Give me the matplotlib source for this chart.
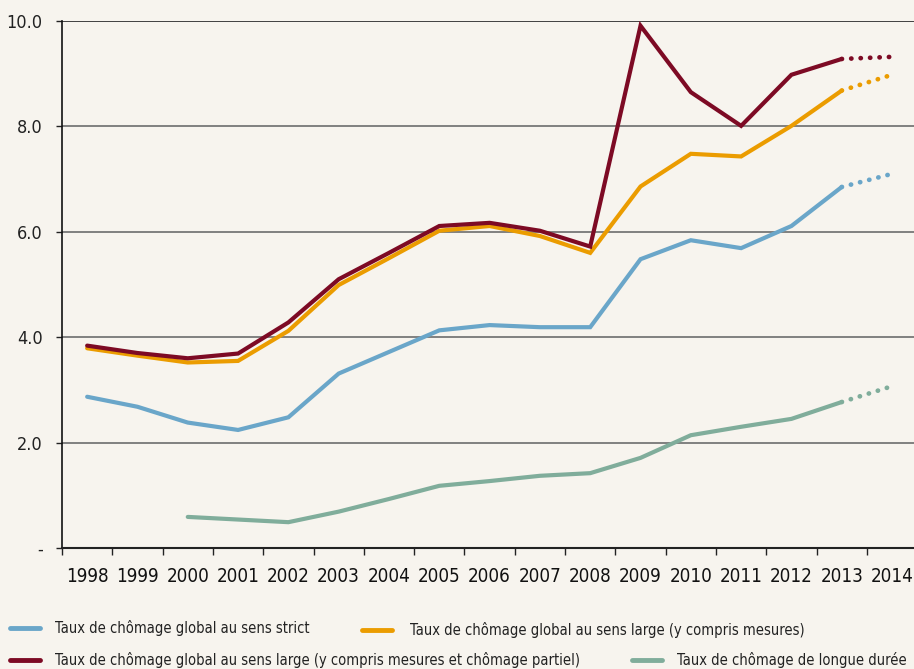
import matplotlib
matplotlib.use("Agg")
import matplotlib.pyplot as plt
from matplotlib.lines import Line2D

years = [str(y) for y in range(1998, 2015)]
strict = [2.87, 2.68, 2.38, 2.24, 2.48, 3.31, 3.72, 4.13, 4.23, 4.19, 4.19, 5.48, 5.84, 5.69, 6.11, 6.85, 7.10]
large = [3.79, 3.65, 3.52, 3.55, 4.12, 4.99, 5.50, 6.02, 6.11, 5.92, 5.60, 6.86, 7.48, 7.43, 8.01, 8.68, 8.98]
large_partiel = [3.84, 3.70, 3.60, 3.69, 4.28, 5.10, 5.60, 6.11, 6.17, 6.02, 5.72, 9.91, 8.65, 8.01, 8.98, 9.28, 9.32]
longue = [None, None, 0.59, 0.54, 0.49, 0.69, 0.93, 1.18, 1.27, 1.37, 1.42, 1.71, 2.14, 2.30, 2.45, 2.77, 3.07]
yticks = [0, 2, 4, 6, 8, 10]
ytick_labels = ["-", "2.0", "4.0", "6.0", "8.0", "10.0"]
labels = [
    "Taux de chômage global au sens strict",
    "Taux de chômage global au sens large (y compris mesures)",
    "Taux de chômage global au sens large (y compris mesures et chômage partiel)",
    "Taux de chômage de longue durée",
]
colors = ["#6aa6c9", "#eb9c00", "#7d0a24", "#80ad9b"]

bg = "#f7f4ee"
fig = plt.figure(figsize=(9.14, 6.69), dpi=100, facecolor=bg)
ax = fig.add_axes([62/914, 1-548/669, 1.0035-62/914, (548-21)/669])
ax.set_facecolor(bg)

font = dict(family="DejaVu Sans", stretch="condensed")

series = [strict, large, large_partiel, longue]
x = list(range(len(years)))
for s, c in zip(series, colors):
    xs = [i for i, v in zip(x, s) if v is not None]
    vs = [v for v in s if v is not None]
    # solid up to 2013, dotted 2013-2014
    ax.plot(xs[:-1], vs[:-1], color=c, lw=3, solid_capstyle="round", solid_joinstyle="miter", zorder=3)
    ax.plot(xs[-2:], vs[-2:], color=c, lw=3.4, linestyle=(0, (0.05, 1.95)), dash_capstyle="round", zorder=3)

ax.set_xlim(-0.5, len(years) - 0.5)
ax.set_ylim(0, 10)
for yv in [2, 4, 6, 8]:
    ax.axhline(yv, color="#777777", lw=1.3, zorder=1)
ax.axhline(10, color="#333333", lw=1.3, zorder=1)

ax.set_yticks(yticks)
ax.set_yticklabels(ytick_labels, fontsize=13, color="#222222", **font)
ax.set_xticks(x)
ax.set_xticklabels(years, fontsize=13.5, color="#111111", **font)
ax.set_xticks([i - 0.5 for i in range(len(years) + 1)], minor=True)
ax.tick_params(axis="x", which="major", length=0, pad=14)
ax.tick_params(axis="x", which="minor", length=5, width=1, color="#222222", direction="out")
ax.tick_params(axis="y", length=4, width=1, color="#222222", pad=10)

for side in ["top", "right"]:
    ax.spines[side].set_visible(False)
ax.spines["left"].set_color("#111111")
ax.spines["bottom"].set_color("#222222")
ax.spines["left"].set_linewidth(1.2)
ax.spines["bottom"].set_linewidth(1.5)

# legend (manual placement)
leg_items = [
    (10, 628, 55, 0),
    (362, 630, 410, 1),
    (10, 660, 55, 2),
    (632, 660, 677, 3),
]
for lx, ly, tx, i in leg_items:
    fig.add_artist(Line2D([lx/914, (lx+30)/914], [1-ly/669, 1-ly/669], color=colors[i], lw=3.5,
                          solid_capstyle="round", transform=fig.transFigure))
    fig.text(tx/914, 1-ly/669, labels[i], fontsize=10.5, color="#222222", va="center", ha="left", **font)

fig.savefig("out.png", dpi=100, facecolor=bg)
